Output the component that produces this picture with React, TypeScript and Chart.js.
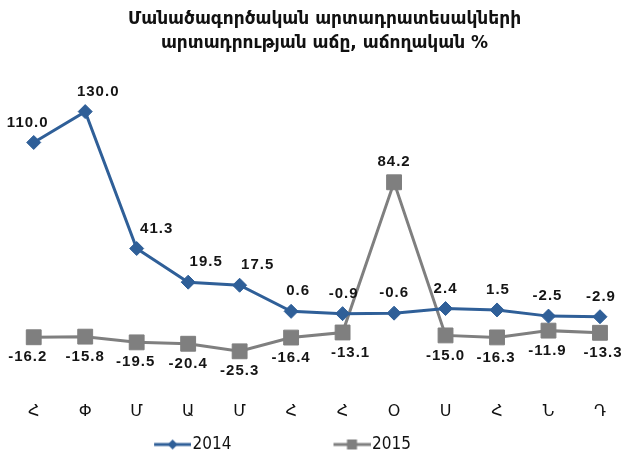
import React, { useEffect, useRef } from 'react';
import { Chart, registerables } from 'chart.js';

Chart.register(...registerables);

const titleLines = ['Մանածագործական արտադրատեսակների', 'արտադրության աճը, աճողական %'];
const categories = ['Հ', 'Փ', 'Մ', 'Ա', 'Մ', 'Հ', 'Հ', 'Օ', 'Ս', 'Հ', 'Ն', 'Դ'];
const seriesNames = ['2014', '2015'];
const values2014 = [110.0, 130.0, 41.3, 19.5, 17.5, 0.6, -0.9, -0.6, 2.4, 1.5, -2.5, -2.9];
const values2015 = [-16.2, -15.8, -19.5, -20.4, -25.3, -16.4, -13.1, 84.2, -15.0, -16.3, -11.9, -13.3];

// label nudges (style only)
const labelDx2014 = [-6, 13, 20, 18, 18, 7, 1, 0, 0, 1, -1, 1];
const labelDx2015 = [-6, 0, -1, 0, 0, 0, 8, 0, 0, -1, -1, 3];

const BLUE = '#2f5f98';
const GRAY = '#7f7f7f';
const LEGEND_BOX = 122;

function makeLegendIcon(color: string, kind: 'diamond' | 'square') {
  const w = LEGEND_BOX + 14;
  const h = 16;
  const c = document.createElement('canvas');
  c.width = w;
  c.height = h;
  const g = c.getContext('2d')!;
  const x0 = w - 37;
  g.strokeStyle = color;
  g.lineWidth = 3;
  g.beginPath();
  g.moveTo(x0, h / 2);
  g.lineTo(w, h / 2);
  g.stroke();
  g.fillStyle = color;
  const cx = x0 + 18.5;
  const cy = h / 2;
  if (kind === 'diamond') {
    g.beginPath();
    g.moveTo(cx - 5, cy);
    g.lineTo(cx, cy - 5);
    g.lineTo(cx + 5, cy);
    g.lineTo(cx, cy + 5);
    g.closePath();
    g.fill();
  } else {
    g.fillRect(cx - 5, cy - 5, 10, 10);
  }
  return c;
}

const valueLabelPlugin = {
  id: 'valueLabels',
  afterDatasetsDraw(chart: any) {
    const ctx = chart.ctx;
    ctx.save();
    ctx.font = 'bold 15px "Liberation Sans", Arial, sans-serif';
    try {
      (ctx as any).letterSpacing = '1px';
    } catch (e) {}
    ctx.fillStyle = '#151515';
    ctx.textAlign = 'center';
    ctx.textBaseline = 'middle';
    const dxs = [labelDx2014, labelDx2015];
    chart.data.datasets.forEach((ds: any, di: number) => {
      const meta = chart.getDatasetMeta(di);
      const other = chart.data.datasets[1 - di].data;
      meta.data.forEach((pt: any, i: number) => {
        const v = ds.data[i];
        const above = di === 0 ? true : v > other[i];
        ctx.fillText(v.toFixed(1), pt.x + dxs[di][i], pt.y + (above ? -20 : 20));
      });
    });
    ctx.restore();
  },
};

const legendShiftPlugin = {
  id: 'legendShift',
  afterLayout(chart: any) {
    const lg = chart.legend;
    if (lg) {
      lg.left -= 88;
      lg.right -= 88;
    }
  },
};

export default function App() {
  const ref = useRef<HTMLCanvasElement>(null);
  useEffect(() => {
    const icons = [makeLegendIcon(BLUE, 'diamond'), makeLegendIcon(GRAY, 'square')];
    const chart = new Chart(ref.current!, {
      type: 'line',
      data: {
        labels: categories,
        datasets: [
          {
            label: seriesNames[0],
            data: values2014,
            borderColor: BLUE,
            backgroundColor: BLUE,
            borderWidth: 3,
            pointStyle: 'rectRot',
            pointRadius: 7,
            pointBorderWidth: 1,
            tension: 0,
          },
          {
            label: seriesNames[1],
            data: values2015,
            borderColor: GRAY,
            backgroundColor: GRAY,
            borderWidth: 3,
            pointStyle: 'rect',
            pointRadius: 10.5,
            pointBorderWidth: 1,
            tension: 0,
          },
        ],
      },
      options: {
        animation: false,
        responsive: true,
        maintainAspectRatio: false,
        layout: { padding: { left: 19, right: 4, top: 0, bottom: 0 } },
        scales: {
          x: {
            grid: { display: false, drawTicks: false },
            border: { display: false },
            ticks: {
              padding: 28,
              color: '#111',
              font: { family: '"DejaVu Sans", sans-serif', size: 16 },
            },
            afterFit: (s: any) => {
              s.height = 52;
            },
          },
          y: { display: false, min: -40, max: 160 },
        },
        plugins: {
          title: {
            display: true,
            text: titleLines,
            color: '#111',
            font: { family: '"DejaVu Sans", sans-serif', size: 17, weight: 'bold', lineHeight: 1.45 },
            padding: { top: 7, bottom: 9 },
          },
          legend: {
            position: 'bottom',
            labels: {
              usePointStyle: true,
              pointStyleWidth: LEGEND_BOX,
              padding: 10,
              color: '#111',
              font: { family: '"Liberation Sans Narrow", "DejaVu Sans Condensed", sans-serif', size: 17 },
              generateLabels: (c: any) => {
                const items = (Chart.defaults.plugins.legend.labels as any).generateLabels(c);
                items.forEach((it: any, i: number) => {
                  it.pointStyle = icons[i];
                });
                return items;
              },
            },
          },
          tooltip: { enabled: false },
        },
      },
      plugins: [valueLabelPlugin, legendShiftPlugin],
    });
    return () => chart.destroy();
  }, []);
  return (
    <div style={{ position: 'fixed', left: 0, top: 0, width: 634, height: 463, background: '#fff' }}>
      <canvas ref={ref} />
    </div>
  );
}
